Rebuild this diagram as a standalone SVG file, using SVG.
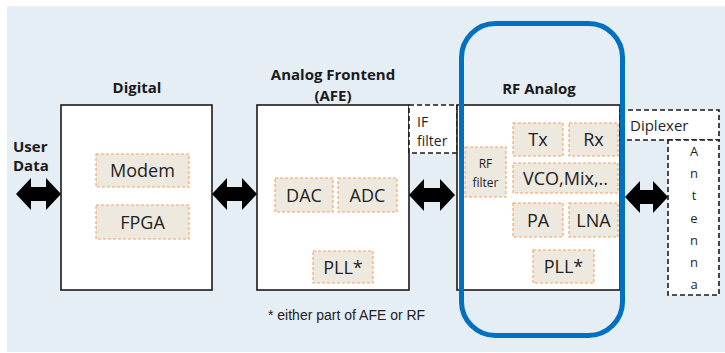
<svg xmlns="http://www.w3.org/2000/svg" width="725" height="353" viewBox="0 0 725 353">
<style>
.t{font-family:"Open Sans","Liberation Sans",sans-serif;fill:#1f1f1f}
.h{font-family:"Open Sans","Liberation Sans",sans-serif;font-weight:bold;font-size:15px;fill:#1a1a1a;text-anchor:middle}
.blk{fill:#fff;stroke:#1a1a1a;stroke-width:1.6}
.dash{fill:#fff;stroke:#1a1a1a;stroke-width:1.6;stroke-dasharray:5 3}
.sub{fill:#ede9df;stroke:#f4a261;stroke-width:1.1;stroke-dasharray:3 2}
.st{font-family:"Open Sans","Liberation Sans",sans-serif;font-size:18px;fill:#222;text-anchor:middle}
.arr{fill:#000}
</style>
<rect x="7" y="6" width="718" height="346" fill="#e5edf5"/>
<g id="user-data">
<text class="h" x="13" y="152" style="text-anchor:start">User</text>
<text class="h" x="13" y="171" style="text-anchor:start">Data</text>
</g>
<g id="digital">
<text class="h" x="137" y="93">Digital</text>
<rect class="blk" x="61" y="105" width="151" height="185"/>
<g id="modem"><rect class="sub" x="96" y="154" width="93" height="33"/><text class="st" x="142.5" y="177">Modem</text></g>
<g id="fpga"><rect class="sub" x="96" y="205" width="93" height="34"/><text class="st" x="142.5" y="228.5">FPGA</text></g>
</g>
<g id="afe">
<text class="h" x="333" y="80">Analog Frontend</text>
<text class="h" x="333" y="101">(AFE)</text>
<rect class="blk" x="257" y="105" width="152" height="185"/>
<g id="dac"><rect class="sub" x="275" y="178" width="58" height="34"/><text class="st" x="304" y="201.5">DAC</text></g>
<g id="adc"><rect class="sub" x="338" y="178" width="59" height="34"/><text class="st" x="367.5" y="201.5">ADC</text></g>
<g id="pll-afe"><rect class="sub" x="313" y="251" width="60" height="32"/><text class="st" x="343" y="273.5">PLL*</text></g>
</g>
<g id="if-filter">
<rect class="dash" x="409" y="105" width="48" height="48"/>
<text class="t" x="417" y="127" font-size="14" fill="#333">IF</text>
<text class="t" x="417" y="146" font-size="14" fill="#333">filter</text>
</g>
<g id="rf-analog">
<text class="h" x="539" y="94">RF Analog</text>
<rect class="blk" x="457" y="105" width="163" height="185"/>
<g id="rf-filter"><rect class="sub" x="465" y="147" width="41" height="50"/>
<text class="t" x="485.5" y="168" font-size="12" text-anchor="middle">RF</text>
<text class="t" x="485.5" y="187" font-size="12" text-anchor="middle">filter</text></g>
<g id="tx"><rect class="sub" x="513" y="123" width="50" height="33"/><text class="st" x="538" y="146">Tx</text></g>
<g id="rx"><rect class="sub" x="569" y="123" width="49" height="33"/><text class="st" x="593.5" y="146">Rx</text></g>
<g id="vco"><rect class="sub" x="513" y="163" width="105" height="30"/><text class="st" x="565.5" y="184.5">VCO,Mix,..</text></g>
<g id="pa"><rect class="sub" x="513" y="203" width="50" height="34"/><text class="st" x="538" y="226.5">PA</text></g>
<g id="lna"><rect class="sub" x="569" y="203" width="49" height="34"/><text class="st" x="593.5" y="226.5">LNA</text></g>
<g id="pll-rf"><rect class="sub" x="533" y="250" width="61" height="33"/><text class="st" x="563.5" y="273">PLL*</text></g>
</g>
<g id="diplexer">
<rect class="dash" x="620" y="110" width="99" height="30"/>
<text class="t" x="630" y="131" font-size="15">Diplexer</text>
</g>
<g id="antenna">
<rect class="dash" x="668" y="140" width="51" height="155"/>
<g class="t" font-size="13" text-anchor="middle" fill="#333">
<text x="694" y="156">A</text><text x="694" y="178">n</text><text x="694" y="200">t</text><text x="694" y="223">e</text><text x="694" y="245">n</text><text x="694" y="267">n</text><text x="694" y="289">a</text>
</g>
</g>
<g id="rf-highlight">
<rect x="461.5" y="23.5" width="161" height="312" rx="34" ry="34" fill="none" stroke="#0070c0" stroke-width="5"/>
</g>
<g id="connectors">
<path class="arr" d="M16 194 L31 178 L31 187 L46 187 L46 178 L61 194 L46 210 L46 201 L31 201 L31 210 Z"/>
<path class="arr" d="M212 194 L227 178 L227 187 L242 187 L242 178 L257 194 L242 210 L242 201 L227 201 L227 210 Z"/>
<path class="arr" d="M409 195 L424 179 L424 188 L440 188 L440 179 L455 195 L440 211 L440 202 L424 202 L424 211 Z"/>
<path class="arr" d="M625 197 L640 181 L640 190 L653 190 L653 181 L668 197 L653 213 L653 204 L640 204 L640 213 Z"/>
</g>
<text id="footnote" x="268" y="320" font-family="Liberation Sans, Arial, sans-serif" font-size="14" fill="#222">* either part of AFE or RF</text>
</svg>
